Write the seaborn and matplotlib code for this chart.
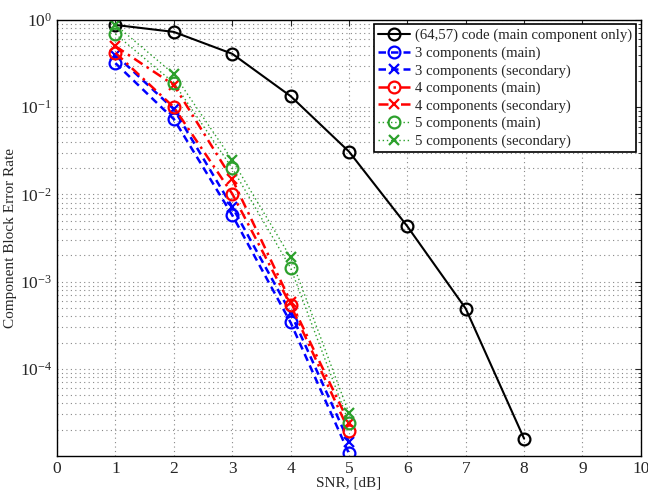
#!/usr/bin/env python3

import pandas as pd
import numpy as np
import matplotlib
matplotlib.use('Agg')
import matplotlib.pyplot as plt
import seaborn as sns
from matplotlib.ticker import LogLocator, LogFormatterMathtext, NullFormatter

# SNR points, [dB]
snr_code = [1, 2, 3, 4, 5, 6, 7, 8]
snr_comp = [1, 2, 3, 4, 5]

# block error rates
code_main = [0.877, 0.73, 0.41, 0.134, 0.031, 0.0043, 4.9e-4, 1.58e-5]
c3_main = [0.32, 0.073, 0.0058, 3.4e-4, 1.07e-5]
c3_sec = [0.40, 0.095, 0.0072, 4.4e-4, 1.45e-5]
c4_main = [0.42, 0.10, 0.0102, 5.4e-4, 1.94e-5]
c4_sec = [0.50, 0.18, 0.0150, 5.9e-4, 2.4e-5]
c5_main = [0.69, 0.19, 0.020, 0.00144, 2.4e-5]
c5_sec = [0.88, 0.24, 0.0248, 0.0019, 3.1e-5]

green = '#2ca02c'
series = [
    ('(64,57) code (main component only)', snr_code, code_main, 'black', '-', 'o', 1.5),
    ('3 components (main)', snr_comp, c3_main, 'blue', (0, (3, 2)), 'o', 1.8),
    ('3 components (secondary)', snr_comp, c3_sec, 'blue', (0, (3, 2)), 'x', 1.8),
    ('4 components (main)', snr_comp, c4_main, 'red', (0, (4, 2, 1, 2)), 'o', 1.8),
    ('4 components (secondary)', snr_comp, c4_sec, 'red', (0, (4, 2, 1, 2)), 'x', 1.8),
    ('5 components (main)', snr_comp, c5_main, green, (0, (1, 2)), 'o', 1.0),
    ('5 components (secondary)', snr_comp, c5_sec, green, (0, (1, 2)), 'x', 1.0),
]

sns.set_style('white')
plt.rcParams['font.family'] = ['Liberation Serif', 'DejaVu Serif']
plt.rcParams['mathtext.fontset'] = 'custom'
plt.rcParams['mathtext.rm'] = 'Liberation Serif'

fig = plt.figure(figsize=(6.48, 4.91), dpi=100)
ax = fig.add_axes([0.088, 0.0713, 0.901, 0.888])

for label, xs, ys, color, ls, mk, lw in series:
    df = pd.DataFrame({'snr': xs, 'bler': ys})
    ms = 6.5 if mk == 'x' else 8.5
    sns.lineplot(data=df, x='snr', y='bler', ax=ax, color=color, linestyle=ls,
                 linewidth=lw, marker=mk, markersize=ms, markerfacecolor='none',
                 markeredgecolor=color, markeredgewidth=1.6, label=label)

ax.set_yscale('log')
ax.set_xlim(0, 10)
ax.set_ylim(1e-5, 1)
ax.set_xticks(range(0, 11))
ax.set_yticks([1e-4, 1e-3, 1e-2, 1e-1, 1e0])
ax.yaxis.set_major_formatter(LogFormatterMathtext())
ax.yaxis.set_minor_locator(LogLocator(base=10, subs=np.arange(2, 10), numticks=20))
ax.yaxis.set_minor_formatter(NullFormatter())

grid_kw = dict(linestyle=(0, (1, 3)), color='#888888', linewidth=0.8)
ax.grid(True, which='major', axis='both', **grid_kw)
ax.grid(True, which='minor', axis='y', **grid_kw)
ax.tick_params(which='both', direction='in', top=True, right=True, labelsize=12.5)
ax.tick_params(which='major', length=4)
ax.tick_params(which='minor', length=2.5)
for s in ax.spines.values():
    s.set_color('black')
    s.set_linewidth(1.0)

ax.set_xlabel('SNR, [dB]', fontsize=11, labelpad=0)
ax.set_ylabel('Component Block Error Rate', fontsize=11, labelpad=2)

leg = ax.legend(loc='upper right', fontsize=10.6, frameon=True, fancybox=False,
                edgecolor='black', framealpha=1, handlelength=2.2,
                borderpad=0.3, labelspacing=0.28, handletextpad=0.3,
                borderaxespad=0.3)
leg.get_frame().set_linewidth(1.2)

plt.savefig('out.png', dpi=100)
plt.close()
